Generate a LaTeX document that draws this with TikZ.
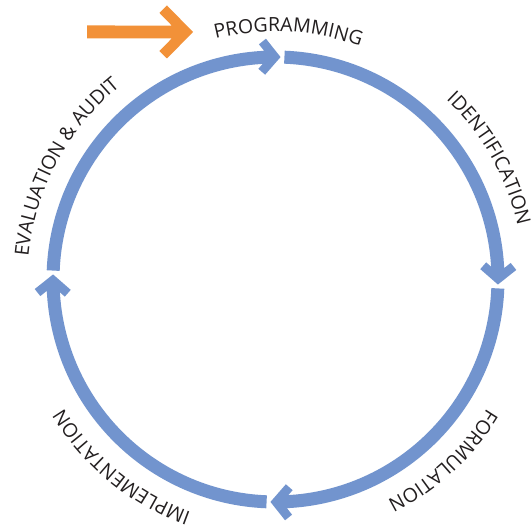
\documentclass[tikz,border=0pt]{standalone}
\usepackage{fontspec}
\usetikzlibrary{calc,decorations.text}
\newfontfamily\labfont{Open Sans}
\definecolor{ringblue}{RGB}{114,148,206}
\definecolor{arrorange}{RGB}{242,145,56}
\definecolor{txt}{RGB}{35,31,32}
\newcommand\lbl{\labfont\fontsize{19.5pt}{20pt}\selectfont\color{txt}}
\tikzset{
  ring/.style={draw=ringblue, line width=13pt},
  headfill/.style={fill=ringblue},
  lbltext/.style={decorate, decoration={text along path, text align=center, text={#1}}}
}
\begin{document}
\begin{tikzpicture}[x=1pt,y=1pt]
\useasboundingbox (0,0) rectangle (531,530);
\fill[white] (0,0) rectangle (531,530);
\coordinate (c) at (275.5,250.5);
\def\R{222.5}
% cycle arcs with arrowheads
\foreach \A in {180,90,0,-90} {
  \draw[ring] ($(c)+(\A-2.3:\R)$) arc[start angle=\A-2.3, end angle=\A-87.44, radius=\R];
  \fill[headfill, shift={($(c)+(\A-91.3:\R)$)}, rotate=\A-181.3]
    (0,0) -- (-15,18) -- (-21.9,12.24) -- (-17.1,6.5) -- (-17.1,-6.5)
    -- (-21.9,-12.24) -- (-15,-18) -- cycle;
}
% orange start arrow
\coordinate (os) at (87,498);
\coordinate (ot) at (193,498);
\fill[arrorange] (ot) -- ++(-26,26.5) -- ++(-7.57,-7.42) -- ++(12.3,-12.6)
  -- ($(os)+(0,6.5)$) -- ($(os)+(0,-6.5)$) -- ($(ot)+(-21.3,-6.5)$)
  -- ($(ot)+(-33.6,-19.1)$) -- ($(ot)+(-26,-26.5)$) -- cycle;
% labels
\path[lbltext={|\lbl|PROGRAMMING}] ($(c)+(127:248)$) arc[start angle=127, end angle=47, radius=248];
\path[lbltext={|\lbl|IDENTIFICATION}] ($(c)+(69.5:248)$) arc[start angle=69.5, end angle=-10.5, radius=248];
\path[lbltext={|\lbl|FORMULATION}] ($(c)+(-7.3:248)$) arc[start angle=-7.3, end angle=-87.3, radius=248];
\path[lbltext={|\lbl|IMPLEMENTATION}] ($(c)+(-89.3:248)$) arc[start angle=-89.3, end angle=-169.3, radius=248];
\path[lbltext={|\lbl|EVALUATION {\&} AUDIT}] ($(c)+(191.8:248)$) arc[start angle=191.8, end angle=111.8, radius=248];
\end{tikzpicture}
\end{document}
